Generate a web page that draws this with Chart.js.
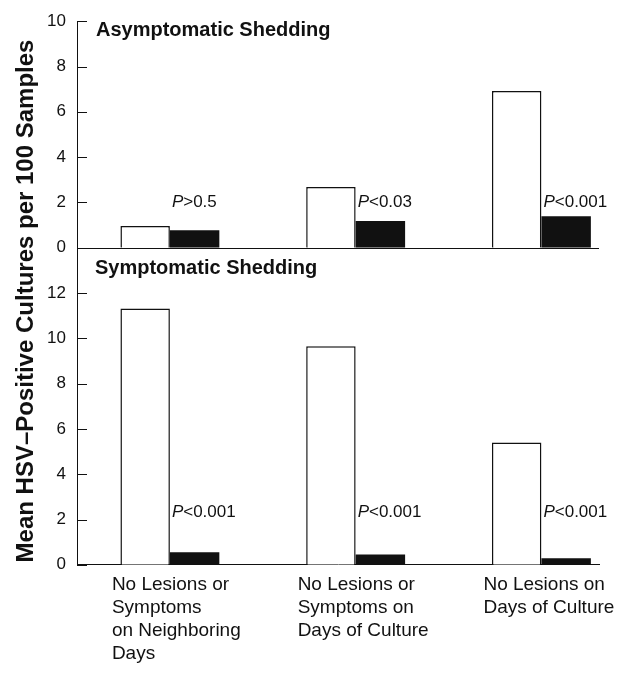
<!DOCTYPE html>
<html>
<head>
<meta charset="utf-8">
<script src="https://cdn.jsdelivr.net/npm/chart.js@4"></script>
<style>
  body { margin: 0; background: #fff; }
</style>
</head>
<body>
<canvas id="chart" width="623" height="674"></canvas>
<script>
const categories = [
  ['No Lesions or', 'Symptoms', 'on Neighboring', 'Days'],
  ['No Lesions or', 'Symptoms on', 'Days of Culture'],
  ['No Lesions on', 'Days of Culture']
];
const asymWhite = [0.96, 2.68, 6.92];
const asymBlack = [0.77, 1.18, 1.39];
const symWhite = [11.32, 9.65, 5.40];
const symBlack = [0.55, 0.45, 0.29];
const asymP = ['>0.5', '<0.03', '<0.001'];
const symP = ['<0.001', '<0.001', '<0.001'];
const asymTicks = [0, 2, 4, 6, 8, 10];
const symTicks = [0, 2, 4, 6, 8, 10, 12];

const FONT = '"Liberation Sans", Arial, Helvetica, sans-serif';
const INK = '#111';

const points = (arr) => arr.map((v, i) => ({ x: i, y: v }));

// titles, p-values, inward ticks and the top panel baseline
const decorations = {
  id: 'decorations',
  afterDraw(chart) {
    const ctx = chart.ctx;
    const area = chart.chartArea;
    const yTop = chart.scales.yTop;
    const yBot = chart.scales.yBot;
    ctx.save();
    ctx.strokeStyle = INK;
    ctx.lineWidth = 1;
    [yTop, yBot].forEach(s => {
      s.ticks.forEach((t, i) => {
        const y = Math.round(s.getPixelForTick(i)) + 0.5;
        ctx.beginPath();
        ctx.moveTo(s.right, y);
        ctx.lineTo(s.right + 10, y);
        ctx.stroke();
      });
    });
    const y0 = Math.round(yTop.getPixelForValue(0)) + 0.5;
    ctx.beginPath();
    ctx.moveTo(area.left, y0);
    ctx.lineTo(area.right, y0);
    ctx.stroke();

    ctx.fillStyle = INK;
    ctx.font = 'bold 20px ' + FONT;
    ctx.textAlign = 'left';
    ctx.textBaseline = 'alphabetic';
    ctx.fillText('Asymptomatic Shedding', area.left + 19, yTop.top + 15);
    ctx.fillText('Symptomatic Shedding', area.left + 18, yBot.top + 26);

    const drawP = (meta, labels, scale, v) => {
      meta.data.forEach((bar, i) => {
        const x = bar.x - bar.width / 2 + 2;
        const y = scale.getPixelForValue(v);
        ctx.textBaseline = 'middle';
        ctx.font = 'italic 17px ' + FONT;
        ctx.fillText('P', x, y);
        const w = ctx.measureText('P').width;
        ctx.font = '17px ' + FONT;
        ctx.fillText(labels[i], x + w, y);
      });
    };
    drawP(chart.getDatasetMeta(1), asymP, yTop, 2.0);
    drawP(chart.getDatasetMeta(3), symP, yBot, 2.3);

    ctx.translate(33, (area.top + area.bottom) / 2 + 8);
    ctx.rotate(-Math.PI / 2);
    ctx.font = 'bold 24px ' + FONT;
    ctx.textAlign = 'center';
    ctx.textBaseline = 'alphabetic';
    ctx.fillText('Mean HSV\u2013Positive Cultures per 100 Samples', 0, 0);
    ctx.restore();
  }
};

const yScale = (ticks, max, weight, stackWeight) => ({
  type: 'linear',
  position: 'left',
  stack: 'panels',
  stackWeight: stackWeight,
  weight: weight,
  min: 0,
  max: max,
  afterBuildTicks: s => { s.ticks = ticks.map(v => ({ value: v })); },
  afterFit: s => { s.width = 77; },
  grid: { display: false, drawTicks: false },
  border: { display: true, color: INK, width: 1 },
  ticks: { padding: 11, color: INK, font: { family: FONT, size: 17 } }
});

new Chart(document.getElementById('chart'), {
  type: 'bar',
  data: {
    datasets: [
      { data: points(asymWhite), yAxisID: 'yTop', stack: 'w', backgroundColor: '#fff', borderColor: INK, borderWidth: 1.5 },
      { data: points(asymBlack), yAxisID: 'yTop', stack: 'b', backgroundColor: INK, borderWidth: 0 },
      { data: points(symWhite), yAxisID: 'yBot', stack: 'w', backgroundColor: '#fff', borderColor: INK, borderWidth: 1.5 },
      { data: points(symBlack), yAxisID: 'yBot', stack: 'b', backgroundColor: INK, borderWidth: 0 }
    ]
  },
  options: {
    responsive: false,
    animation: false,
    categoryPercentage: 0.5325,
    barPercentage: 1.0,
    layout: { padding: { top: 19, right: 24, bottom: 0, left: 0 } },
    plugins: {
      legend: { display: false },
      tooltip: { enabled: false },
      title: { display: false }
    },
    scales: {
      x: {
        type: 'linear',
        min: -0.5,
        max: 2.31,
        offset: false,
        bounds: 'data',
        afterBuildTicks: s => { s.ticks = categories.map((c, i) => ({ value: i })); },
        afterFit: s => { s.paddingLeft = 0; s.paddingRight = 0; },
        grid: { display: false, drawTicks: false },
        border: { display: true, color: INK, width: 1 },
        ticks: {
          callback: v => categories[v],
          align: 'start',
          labelOffset: -58,
          padding: 9,
          maxRotation: 0,
          autoSkip: false,
          color: INK,
          font: { family: FONT, size: 19 }
        }
      },
      yTop: yScale(asymTicks, 10, 2, 10),
      yBot: yScale(symTicks, 14, 1, 14)
    }
  },
  plugins: [decorations]
});
</script>
</body>
</html>
